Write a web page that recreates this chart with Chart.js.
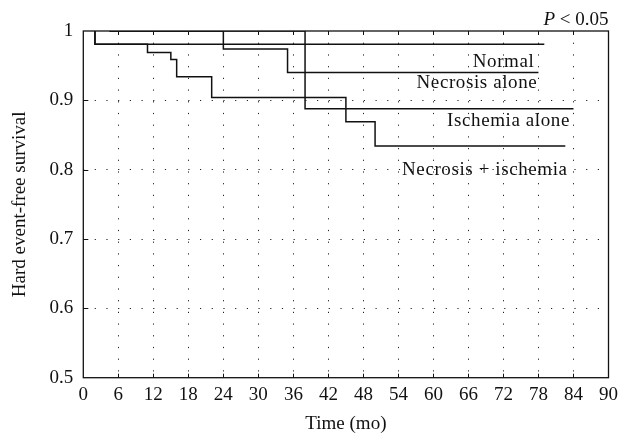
<!DOCTYPE html>
<html>
<head>
<meta charset="utf-8">
<script src="https://cdn.jsdelivr.net/npm/chart.js@4"></script>
<style>
  html, body { margin: 0; padding: 0; background: #fff; }
  #wrap { width: 624px; height: 440px; }
</style>
</head>
<body>
<div id="wrap"><canvas id="myCanvas" width="624" height="440"></canvas></div>
<script>
// tick labels
const xTicks = [0, 6, 12, 18, 24, 30, 36, 42, 48, 54, 60, 66, 72, 78, 84, 90];
const yTicks = [0.5, 0.6, 0.7, 0.8, 0.9, 1];

// series (time in months, survival)
const seriesNames = ["Normal", "Necrosis alone", "Ischemia alone", "Necrosis + ischemia"];
const normalTime = [2, 2, 79];
const normalSurv = [1, 0.981, 0.981];
const necrosisTime = [4.5, 24, 35, 78];
const necrosisSurv = [1, 0.974, 0.940, 0.940];
const ischemiaTime = [4.5, 38, 84];
const ischemiaSurv = [1, 0.888, 0.888];
const bothTime = [2, 2, 11, 15, 16, 22, 45, 50, 82.6];
const bothSurv = [1, 0.981, 0.969, 0.959, 0.934, 0.904, 0.869, 0.834, 0.834];

const FONT = "'Liberation Serif', 'Times New Roman', serif";
const INK = "#111";

function pts(t, s) {
  return t.map((v, i) => ({x: v, y: s[i]}));
}

// label anchors: [x value of right edge, y value of baseline]
const labelAnchors = [[77.3, 0.9485], [77.8, 0.9174], [83.4, 0.8634], [83.0, 0.7925]];

const extras = {
  id: "extras",
  afterDraw(chart) {
    const {ctx, chartArea: a, scales: {x, y}} = chart;
    ctx.save();
    // box
    ctx.strokeStyle = INK;
    ctx.lineWidth = 1.3;
    ctx.strokeRect(a.left, a.top, a.right - a.left, a.bottom - a.top);
    // inward ticks
    ctx.lineWidth = 1;
    ctx.beginPath();
    xTicks.slice(1, -1).forEach(v => {
      const px = Math.round(x.getPixelForValue(v)) + 0.5;
      ctx.moveTo(px, a.top); ctx.lineTo(px, a.top + 4);
      ctx.moveTo(px, a.bottom); ctx.lineTo(px, a.bottom - 4);
    });
    yTicks.slice(1, -1).forEach(v => {
      const py = Math.round(y.getPixelForValue(v)) + 0.5;
      ctx.moveTo(a.left, py); ctx.lineTo(a.left + 5, py);
    });
    ctx.stroke();
    // curve labels
    ctx.fillStyle = INK;
    ctx.font = "19px " + FONT;
    ctx.textAlign = "right";
    ctx.textBaseline = "alphabetic";
    ctx.letterSpacing = "0.6px";
    seriesNames.forEach((n, i) => {
      const [lx, ly] = labelAnchors[i];
      ctx.fillText(n, x.getPixelForValue(lx), y.getPixelForValue(ly));
    });
    ctx.letterSpacing = "0px";
    // p value
    const rest = " < 0.05";
    const restW = ctx.measureText(rest).width;
    ctx.fillText(rest, a.right, 25);
    ctx.font = "italic 19px " + FONT;
    ctx.fillText("P", a.right - restW, 25);
    ctx.restore();
  }
};

const lineStyle = {
  borderColor: INK,
  borderWidth: 1.5,
  pointRadius: 0,
  stepped: true,
  fill: false
};

new Chart(document.getElementById("myCanvas").getContext("2d"), {
  type: "line",
  data: {
    datasets: [
      {label: seriesNames[0], data: pts(normalTime, normalSurv), ...lineStyle},
      {label: seriesNames[1], data: pts(necrosisTime, necrosisSurv), ...lineStyle},
      {label: seriesNames[2], data: pts(ischemiaTime, ischemiaSurv), ...lineStyle},
      {label: seriesNames[3], data: pts(bothTime, bothSurv), ...lineStyle}
    ]
  },
  options: {
    responsive: false,
    animation: false,
    layout: {padding: {top: 31, right: 12, left: 0, bottom: 0}},
    plugins: {legend: {display: false}, tooltip: {enabled: false}},
    scales: {
      x: {
        type: "linear",
        min: 0,
        max: 90,
        afterBuildTicks: s => { s.ticks = xTicks.map(v => ({value: v})); },
        afterFit: s => { s.height = 62.3; },
        ticks: {color: INK, font: {family: FONT, size: 19}, padding: 6, maxRotation: 0, autoSkip: false},
        grid: {
          drawTicks: false,
          color: c => (c.index === 0 || c.index === xTicks.length - 1) ? "transparent" : "#222",
          lineWidth: 1
        },
        border: {display: false, dash: [1.2, 10.5]},
        title: {display: true, text: "Time (mo)", color: INK, font: {family: FONT, size: 19}, padding: {top: 0, bottom: 4.6}}
      },
      y: {
        min: 0.5,
        max: 1,
        afterBuildTicks: s => { s.ticks = yTicks.map(v => ({value: v})); },
        afterFit: s => { s.width = 83.3; },
        ticks: {color: INK, font: {family: FONT, size: 19}, padding: 10, callback: v => String(+v.toFixed(1))},
        grid: {
          drawTicks: false,
          color: c => (c.index === 0 || c.index === yTicks.length - 1) ? "transparent" : "#222",
          lineWidth: 1
        },
        border: {display: false, dash: [1.2, 10.5]},
        title: {display: true, text: "Hard event-free survival", color: INK, font: {family: FONT, size: 19}, padding: {top: 8.6, bottom: 0}}
      }
    }
  },
  plugins: [extras]
});
</script>
</body>
</html>
